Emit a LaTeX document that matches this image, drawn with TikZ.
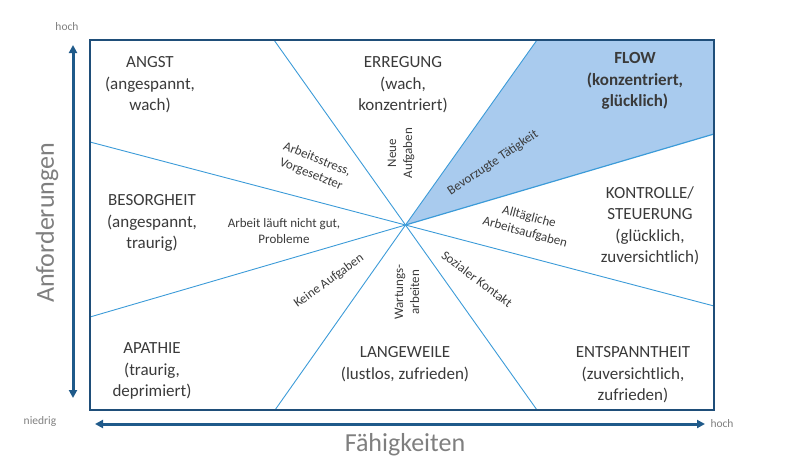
\documentclass[tikz,border=0pt]{standalone}
\usepackage{fontspec}
\setmainfont{Carlito}
\usetikzlibrary{arrows.meta}
\definecolor{boxblue}{HTML}{1F4E79}
\definecolor{axisblue}{HTML}{1F5A8A}
\definecolor{spoke}{HTML}{3C9BD8}
\definecolor{flowfill}{HTML}{A9CBEE}
\definecolor{txt}{HTML}{3A3A3A}
\definecolor{axtxt}{HTML}{7F7F7F}
\tikzset{
  big/.style={font=\fontsize{17}{21.5}\selectfont, text=txt, align=center, inner sep=0pt},
  small/.style={font=\fontsize{13}{16}\selectfont, text=txt, align=center, inner sep=0pt},
  axislab/.style={font=\fontsize{26}{30}\selectfont, text=axtxt, inner sep=0pt},
  ticklab/.style={font=\fontsize{11.5}{13}\selectfont, text=axtxt, inner sep=0pt},
  spokeline/.style={draw=spoke, line width=0.9pt},
  axisarrow/.style={draw=axisblue, line width=3pt, {Triangle[length=8pt,width=8pt]}-{Triangle[length=8pt,width=8pt]}}
}
\begin{document}
\begin{tikzpicture}[x=1pt,y=-1pt]
\useasboundingbox (0,0) rectangle (787,461);
% key points
\coordinate (c) at (405.5,225);
\coordinate (tl) at (90,40);
\coordinate (br) at (714,410);
\coordinate (tr) at (714,40);
\coordinate (pA) at (274,40);
\coordinate (pB) at (537,410);
\coordinate (pC) at (537,40);
\coordinate (pD) at (275,410);
\coordinate (pE) at (90,142);
\coordinate (pF) at (714,306);
\coordinate (pG) at (90,317);
\coordinate (pH) at (714,134);
% flow region
\fill[flowfill] (c) -- (pC) -- (tr) -- (pH) -- cycle;
% spokes
\draw[spokeline] (c) -- (pA);
\draw[spokeline] (c) -- (pB);
\draw[spokeline] (c) -- (pC);
\draw[spokeline] (c) -- (pD);
\draw[spokeline] (c) -- (pE);
\draw[spokeline] (c) -- (pF);
\draw[spokeline] (c) -- (pG);
\draw[spokeline, line width=1.2pt] (c) -- (pH);
% frame
\draw[boxblue, line width=1.3pt] (tl) rectangle (br);
% axes
\coordinate (vt) at (73,45);
\coordinate (vb) at (73,398);
\coordinate (hl) at (95,424);
\coordinate (hr) at (705,424);
\draw[axisarrow] (vb) -- (vt);
\draw[axisarrow] (hl) -- (hr);
\node[ticklab] (hochY) at (67,27) {hoch};
\node[ticklab] (niedrig) at (40,421) {niedrig};
\node[ticklab] (hochX) at (722,424) {hoch};
\node[axislab, rotate=90] (anf) at (47,223) {Anforderungen};
\node[axislab] (faeh) at (405,445) {Fähigkeiten};
% region labels
\node[big] (angst) at (150,85) {ANGST\\(angespannt,\\wach)};
\node[big] (erregung) at (403,85) {ERREGUNG\\(wach,\\konzentriert)};
\node[big, font=\fontsize{17}{21.5}\selectfont\bfseries] (flow) at (635,81) {FLOW\\(konzentriert,\\glücklich)};
\node[big] (besorg) at (152,223) {BESORGHEIT\\(angespannt,\\traurig)};
\node[big] (kontrolle) at (650,226) {KONTROLLE/\\STEUERUNG\\(glücklich,\\zuversichtlich)};
\node[big] (apathie) at (152,371) {APATHIE\\(traurig,\\deprimiert)};
\node[big] (langeweile) at (405,364) {LANGEWEILE\\(lustlos, zufrieden)};
\node[big] (entspannt) at (633,375) {ENTSPANNTHEIT\\(zuversichtlich,\\zufrieden)};
% activity labels
\node[small, rotate=-22] (stress) at (314,167) {Arbeitsstress,\\Vorgesetzter};
\node[small, rotate=90] (neue) at (401,153) {Neue\\Aufgaben};
\node[small, rotate=34] (bevorzugt) at (493,163) {Bevorzugte Tätigkeit};
\node[small] (laeuft) at (284,231) {Arbeit läuft nicht gut,\\Probleme};
\node[small, rotate=-15] (alltag) at (527,225) {Alltägliche\\Arbeitsaufgaben};
\node[small, rotate=36] (keine) at (329,281) {Keine Aufgaben};
\node[small, rotate=90] (wartung) at (407,292) {Wartungs-\\arbeiten};
\node[small, rotate=-37] (sozial) at (477,279) {Sozialer Kontakt};
\end{tikzpicture}
\end{document}
